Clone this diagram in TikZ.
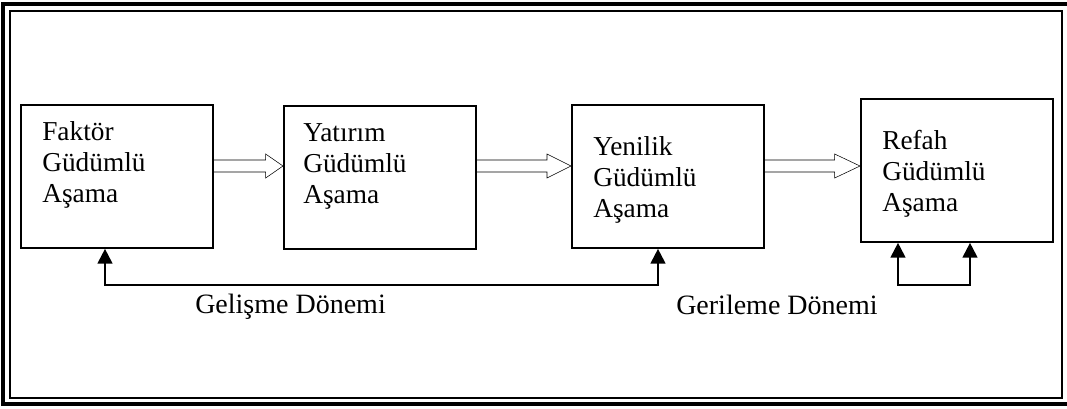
\documentclass[tikz,border=0pt]{standalone}
\usepackage{fontspec}
\setmainfont{Liberation Serif}
\usetikzlibrary{arrows.meta,calc}

\begin{document}
\begin{tikzpicture}[x=0.75pt, y=-0.75pt, font=\fontsize{20.5}{23}\selectfont]
    % Define styles
    \tikzset{
        stage/.style={rectangle, draw=black, line width=1.5pt, minimum width=144pt, minimum height=107pt, inner sep=0pt},
        stagetext/.style={anchor=base west, align=left, inner sep=0pt},
        period/.style={anchor=base west, inner sep=0pt, font=\fontsize{21}{24}\selectfont},
        link/.style={line width=1.5pt, {Triangle[length=11pt,width=11pt]}-{Triangle[length=11pt,width=11pt]}},
        blockarrow/.style={draw, line width=1.6pt, to path={
            let \p1=(\tikztostart), \p2=(\tikztotarget) in
            (\x1,\y1+4.5pt) -- (\x2-#1,\y1+4.5pt) -- (\x2-#1,\y1+9pt) -- (\x2,\y1)
            -- (\x2-#1,\y1-9pt) -- (\x2-#1,\y1-4.5pt) -- (\x1,\y1-4.5pt)}},
        blockarrow/.default=15pt
    }
    \useasboundingbox (0,0) rectangle (1067,408);

    % Double frame
    \draw[line width=2.5pt] (3,4) rectangle (1075,404);
    \draw[line width=1.5pt] (10,10.5) rectangle (1062,398);

    % Stages
    \node[stage] (b1) at (116.5,176.5) {};
    \node[stage] (b2) at (380,177.5) {};
    \node[stage] (b3) at (668,176.5) {};
    \node[stage] (b4) at (957,170.5) {};

    % the base of each text is its last line
    \node[stagetext] (t1) at (42,202) {Faktör\\Güdümlü\\Aşama};
    \node[stagetext] (t2) at (303,203) {Yatırım\\Güdümlü\\Aşama};
    \node[stagetext] (t3) at (593,217) {Yenilik\\Güdümlü\\Aşama};
    \node[stagetext] (t4) at (882,211) {Refah\\Güdümlü\\Aşama};

    % Forward block arrows
    \coordinate (row) at (0,166);
    \draw (b1.east |- row) to[blockarrow=13pt] (b2.west |- row);
    \draw (b2.east |- row) to[blockarrow=18pt] (b3.west |- row);
    \draw (b3.east |- row) to[blockarrow=19pt] (b4.west |- row);

    % Feedback lines
    \coordinate (fbl) at (105,285);
    \coordinate (fbr) at (658,285);
    \draw[link] (fbl |- b1.south) -- (fbl) -- (fbr) -- (fbr |- b3.south);

    \coordinate (rfl) at (898,285);
    \coordinate (rfr) at (970,285);
    \draw[link] (rfl |- b4.south) -- (rfl) -- (rfr) -- (rfr |- b4.south);

    % Period labels
    \node[period] (gel) at (195,313) {Gelişme Dönemi};
    \node[period] (ger) at (676,314) {Gerileme Dönemi};
\end{tikzpicture}
\end{document}
